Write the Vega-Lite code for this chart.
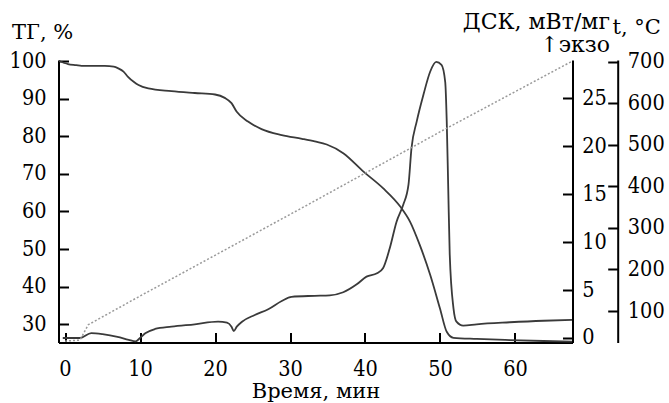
{
  "$schema": "https://vega.github.io/schema/vega-lite/v6.json",
  "width": 514,
  "height": 282.5,
  "autosize": {"type": "none"},
  "padding": {"left": 58.5, "top": 60, "right": 96.5, "bottom": 60.5},
  "background": "white",
  "config": {
    "font": "DejaVu Serif",
    "view": {"stroke": null},
    "axis": {
      "grid": false,
      "domainColor": "black",
      "domainWidth": 2,
      "tickColor": "black",
      "tickWidth": 2,
      "tickSize": -10,
      "labelFont": "DejaVu Serif Condensed, DejaVu Serif",
      "labelFontSize": 21.5,
      "labelColor": "black",
      "labelFlush": false,
      "labelOverlap": false,
      "titleFont": "DejaVu Serif",
      "titleFontSize": 21,
      "titleFontWeight": "normal",
      "titleColor": "black"
    }
  },
  "datasets": {
    "tg": [
      {"t": -0.8, "v": 100.0}, {"t": 0.4, "v": 99.2}, {"t": 1.5, "v": 98.9}, {"t": 2.2, "v": 98.7},
      {"t": 5.3, "v": 98.7}, {"t": 6.5, "v": 98.5}, {"t": 7.1, "v": 98.05}, {"t": 7.8, "v": 97.2},
      {"t": 8.4, "v": 95.8}, {"t": 9.2, "v": 94.4}, {"t": 9.8, "v": 93.6}, {"t": 11.1, "v": 92.7},
      {"t": 14.2, "v": 92.0}, {"t": 17.3, "v": 91.5}, {"t": 20.0, "v": 91.1}, {"t": 21.3, "v": 90.2},
      {"t": 22.2, "v": 88.8}, {"t": 22.9, "v": 86.5}, {"t": 24.4, "v": 83.9}, {"t": 26.2, "v": 81.9},
      {"t": 28.9, "v": 80.3}, {"t": 31.6, "v": 79.3}, {"t": 33.3, "v": 78.6}, {"t": 34.9, "v": 77.8},
      {"t": 37.1, "v": 75.5}, {"t": 39.8, "v": 70.6}, {"t": 42.4, "v": 66.2}, {"t": 44.7, "v": 61.3},
      {"t": 46.0, "v": 57.3}, {"t": 47.3, "v": 51.1}, {"t": 48.7, "v": 43.1}, {"t": 50.0, "v": 34.2},
      {"t": 50.9, "v": 28.0}, {"t": 51.8, "v": 26.4}, {"t": 54.9, "v": 26.1}, {"t": 59.3, "v": 25.8},
      {"t": 63.8, "v": 25.55}, {"t": 67.6, "v": 25.4}
    ],
    "dsc": [
      {"t": -0.3, "v": 0.0}, {"t": 2.0, "v": 0.0}, {"t": 3.5, "v": 0.5}, {"t": 5.0, "v": 0.4},
      {"t": 7.0, "v": 0.12}, {"t": 8.5, "v": -0.2}, {"t": 9.4, "v": -0.35}, {"t": 10.0, "v": 0.0},
      {"t": 10.7, "v": 0.5}, {"t": 12.0, "v": 0.94}, {"t": 14.2, "v": 1.18}, {"t": 17.3, "v": 1.43},
      {"t": 20.4, "v": 1.7}, {"t": 21.6, "v": 1.6}, {"t": 22.2, "v": 1.18}, {"t": 22.5, "v": 0.73},
      {"t": 22.9, "v": 1.18}, {"t": 23.6, "v": 1.7}, {"t": 25.3, "v": 2.4}, {"t": 27.1, "v": 3.0},
      {"t": 28.9, "v": 3.86}, {"t": 30.2, "v": 4.3}, {"t": 33.3, "v": 4.4}, {"t": 35.3, "v": 4.45},
      {"t": 37.1, "v": 4.77}, {"t": 38.9, "v": 5.6}, {"t": 40.2, "v": 6.4}, {"t": 41.6, "v": 6.75},
      {"t": 42.4, "v": 7.27}, {"t": 43.3, "v": 9.35}, {"t": 44.2, "v": 12.1}, {"t": 45.1, "v": 13.9},
      {"t": 45.8, "v": 16.0}, {"t": 46.2, "v": 19.8}, {"t": 46.9, "v": 22.6}, {"t": 47.8, "v": 25.4},
      {"t": 48.7, "v": 27.8}, {"t": 49.5, "v": 28.8}, {"t": 50.2, "v": 28.5}, {"t": 50.7, "v": 26.7},
      {"t": 50.9, "v": 22.6}, {"t": 51.1, "v": 15.6}, {"t": 51.3, "v": 8.7}, {"t": 51.8, "v": 3.1},
      {"t": 52.2, "v": 1.7}, {"t": 53.1, "v": 1.28}, {"t": 54.9, "v": 1.43}, {"t": 59.3, "v": 1.64},
      {"t": 63.8, "v": 1.8}, {"t": 67.6, "v": 1.88}
    ],
    "temp": [
      {"t": 0.0, "v": 27.5}, {"t": 2.0, "v": 30}, {"t": 3.1, "v": 67}, {"t": 10.0, "v": 136},
      {"t": 20.0, "v": 234}, {"t": 32.7, "v": 359}, {"t": 50.4, "v": 535}, {"t": 67.6, "v": 701}
    ]
  },
  "layer": [
    {
      "data": {"name": "tg"},
      "mark": {"type": "line", "color": "#3a3a3a", "strokeWidth": 1.8, "interpolate": "monotone"},
      "encoding": {
        "x": {
          "field": "t", "type": "quantitative",
          "scale": {"domain": [-0.87, 67.67], "nice": false, "zero": false},
          "axis": {
            "values": [0, 10, 20, 30, 40, 50, 60],
            "labelPadding": 26,
            "title": "Время, мин",
            "titleY": 55,
            "titleBaseline": "alphabetic"
          }
        },
        "y": {
          "field": "v", "type": "quantitative",
          "scale": {"domain": [25.15, 100.27], "nice": false, "zero": false},
          "axis": {
            "orient": "left",
            "values": [30, 40, 50, 60, 70, 80, 90, 100],
            "labelPadding": 22.5,
            "title": "ТГ, %",
            "titleAngle": 0,
            "titleAlign": "left",
            "titleBaseline": "alphabetic",
            "titleX": -47,
            "titleY": -21.7
          }
        }
      }
    },
    {
      "data": {"name": "dsc"},
      "mark": {"type": "line", "color": "#3a3a3a", "strokeWidth": 1.8, "interpolate": "monotone"},
      "encoding": {
        "x": {"field": "t", "type": "quantitative"},
        "y": {
          "field": "v", "type": "quantitative",
          "scale": {"domain": [-0.47, 29.0], "nice": false, "zero": false},
          "axis": {
            "orient": "right",
            "values": [0, 5, 10, 15, 20, 25],
            "labelPadding": 19.2,
            "title": ["ДСК, мВт/мг", "↑экзо"],
            "titleFontSize": 22,
            "titleAngle": 0,
            "titleAlign": "right",
            "titleBaseline": "alphabetic",
            "titleLineHeight": 23,
            "titleX": 37,
            "titleY": -32
          }
        }
      }
    },
    {
      "data": {"name": "temp"},
      "mark": {"type": "line", "color": "#9a9a9a", "strokeWidth": 1.5, "strokeDash": [2, 2]},
      "encoding": {
        "x": {"field": "t", "type": "quantitative"},
        "y": {
          "field": "v", "type": "quantitative",
          "scale": {"domain": [24.2, 704.1], "nice": false, "zero": false},
          "axis": {
            "orient": "right",
            "offset": 45.2,
            "values": [100, 200, 300, 400, 500, 600, 700],
            "labelPadding": 19.6,
            "title": "t, °C",
            "titleAngle": 0,
            "titleAlign": "left",
            "titleBaseline": "alphabetic",
            "titleX": -5.7,
            "titleY": -26.5
          }
        }
      }
    }
  ],
  "resolve": {"scale": {"y": "independent"}, "axis": {"y": "independent"}}
}
